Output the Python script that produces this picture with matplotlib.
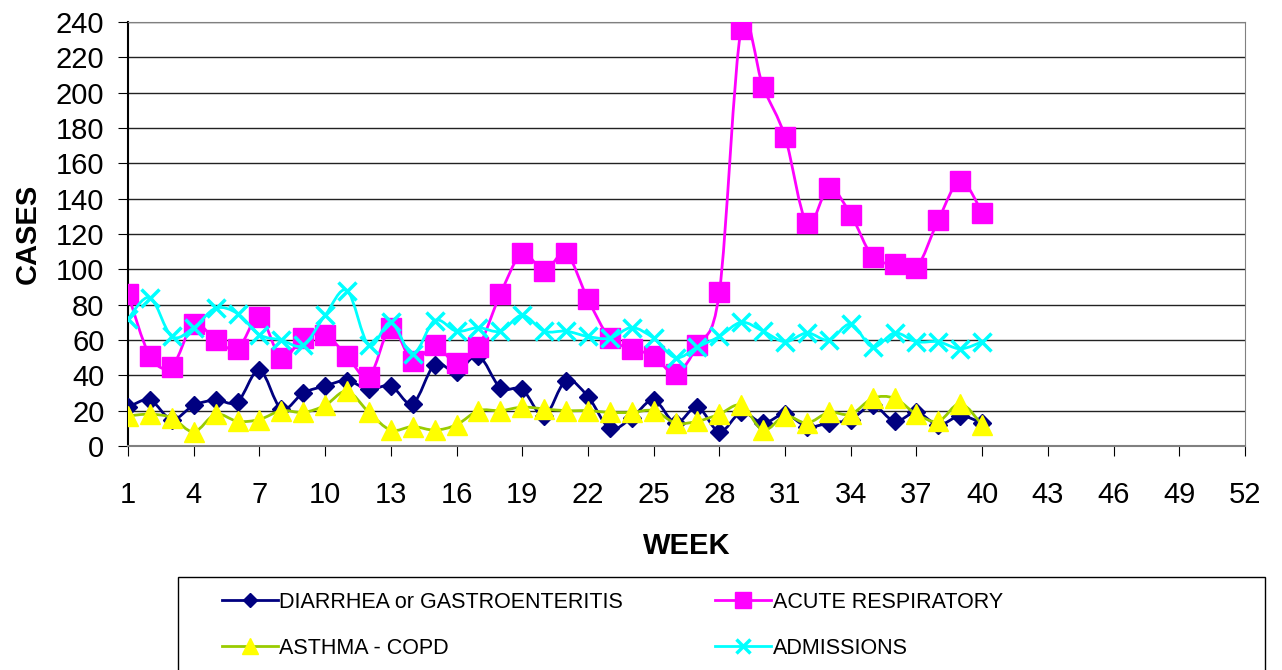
import numpy as np
import matplotlib
matplotlib.use('Agg')
import matplotlib.pyplot as plt
from matplotlib.path import Path
from matplotlib.patches import PathPatch, Rectangle
from matplotlib.lines import Line2D

plt.rcParams['font.family'] = ['Liberation Sans', 'DejaVu Sans']

weeks = list(range(1, 41))
diarrhea = [22, 26, 15, 23, 26, 25, 43, 21, 30, 34, 37, 32, 34, 24, 46, 42, 51, 33, 32, 17,
            37, 28, 10, 16, 26, 13, 22, 8, 19, 13, 18, 11, 13, 15, 23, 14, 19, 12, 17, 13]
acute = [86, 51, 45, 69, 60, 55, 73, 50, 61, 63, 51, 39, 67, 48, 57, 47, 56, 86, 109, 99,
         109, 83, 61, 55, 51, 41, 57, 87, 236, 203, 175, 126, 146, 131, 107, 103, 101, 128, 150, 132]
asthma = [17, 18, 16, 8, 18, 14, 15, 20, 19, 23, 31, 19, 9, 11, 9, 12, 20, 20, 22, 21,
          20, 20, 19, 19, 20, 13, 14, 18, 23, 9, 17, 13, 19, 18, 27, 27, 18, 14, 24, 12]
admissions = [72, 84, 62, 67, 78, 75, 63, 60, 57, 74, 88, 57, 70, 52, 71, 65, 67, 65, 74, 65,
              65, 62, 61, 67, 61, 50, 56, 62, 70, 65, 59, 64, 60, 69, 56, 64, 59, 59, 55, 59]

x_ticks = list(range(1, 53, 3))
y_ticks = list(range(0, 241, 20))


def smooth_path(x, y):
    # excel-like smoothed line (catmull-rom as cubic beziers)
    pts = np.column_stack([x, y]).astype(float)
    verts = [pts[0]]
    codes = [Path.MOVETO]
    n = len(pts)
    for i in range(n - 1):
        p0 = pts[i - 1] if i > 0 else pts[i]
        p1 = pts[i]
        p2 = pts[i + 1]
        p3 = pts[i + 2] if i + 2 < n else pts[i + 1]
        verts += [p1 + (p2 - p0) / 6, p2 - (p3 - p1) / 6, p2]
        codes += [Path.CURVE4] * 3
    return Path(verts, codes)


fig = plt.figure(figsize=(12.82, 6.70), dpi=100)
ax = fig.add_axes([128 / 1282, 1 - 446 / 670, (1245 - 128) / 1282, (446 - 22) / 670])

series = [
    ('DIARRHEA or GASTROENTERITIS', diarrhea, '#000080', 'D', 9, '#000080', '#000080', 1),
    ('ACUTE RESPIRATORY', acute, '#FF00FF', 's', 14, '#FF00FF', '#FF00FF', 1),
    ('ASTHMA - COPD', asthma, '#99CC00', '^', 14, '#FFFF00', '#FFFF00', 1),
    ('ADMISSIONS', admissions, '#00FFFF', 'x', 13, 'none', '#00FFFF', 2.5),
]

handles = {}
for z, (name, vals, col, mk, ms, mfc, mec, mew) in enumerate(series):
    ax.add_patch(PathPatch(smooth_path(weeks, vals), fill=False, edgecolor=col,
                           lw=2.0, zorder=3 + 2 * z))
    ax.plot(weeks, vals, linestyle='none', marker=mk, markersize=ms,
            markerfacecolor=mfc, markeredgecolor=mec, markeredgewidth=mew, zorder=4 + 2 * z)
    handles[name] = Line2D([], [], color=col, lw=2.0, marker=mk, markersize=ms * 0.8,
                           markerfacecolor=mfc, markeredgecolor=mec, markeredgewidth=mew)

ax.set_xlim(1, 52)
ax.set_ylim(0, 240)
ax.set_xticks(x_ticks)
ax.set_yticks(y_ticks)
ax.tick_params(axis='x', labelsize=21, length=7, pad=18, direction='out')
ax.tick_params(axis='y', labelsize=21, length=7, pad=10, direction='out')
ax.grid(axis='y', color='#222222', lw=1.0)
ax.set_axisbelow(True)
for s in ['top', 'right']:
    ax.spines[s].set_color('#808080')
ax.spines['left'].set_linewidth(1.5)
ax.spines['bottom'].set_color('#808080')
ax.spines['bottom'].set_linewidth(1.5)

ax.set_xlabel('WEEK', fontsize=21, fontweight='bold', labelpad=17)
ax.set_ylabel('CASES', fontsize=21, fontweight='bold', labelpad=10)

fig.patches.append(Rectangle((178 / 1282, -0.05), (1265 - 178) / 1282, (1 - 577 / 670) + 0.05,
                             transform=fig.transFigure, fill=False, edgecolor='black', lw=1.0))
order = ['DIARRHEA or GASTROENTERITIS', 'ASTHMA - COPD', 'ACUTE RESPIRATORY', 'ADMISSIONS']
fig.legend([handles[k] for k in order], order, loc='upper left',
           bbox_to_anchor=(222 / 1282, 1 - 592 / 670), ncol=2, frameon=False,
           fontsize=15.5, handlelength=2.6, handletextpad=0.05, labelspacing=1.15,
           columnspacing=4.3, borderpad=0, borderaxespad=0)

fig.savefig('out.png', dpi=100)
